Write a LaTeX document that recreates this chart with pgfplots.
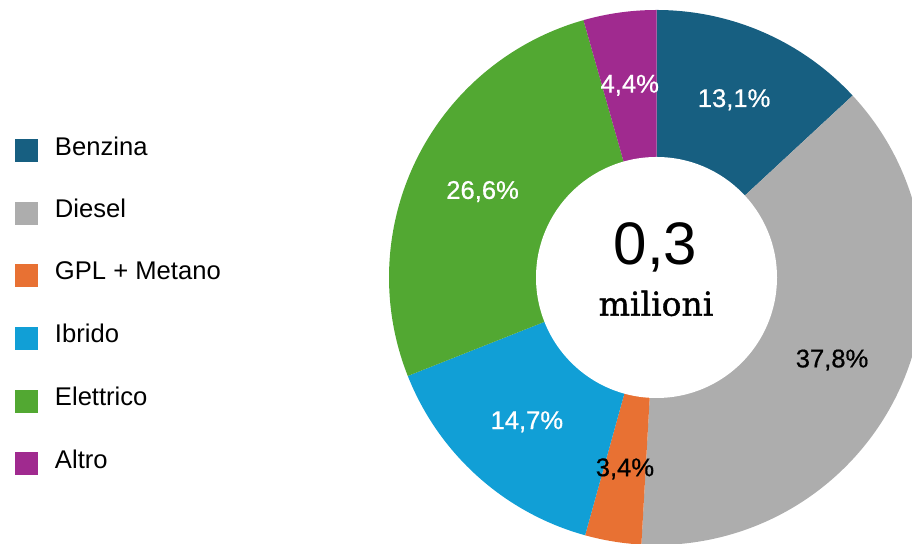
\documentclass[border=0pt]{standalone}
\usepackage{fontspec}
\setmainfont{Liberation Sans}
\newfontfamily\slab[FakeBold=1.2]{DejaVu Serif}
\newfontfamily\medsans[FakeBold=0.6]{Liberation Sans}
\usepackage{pgfplots}
\pgfplotsset{compat=1.18}
\definecolor{benz}{HTML}{175F81}
\definecolor{dies}{HTML}{ADADAD}
\definecolor{gpl}{HTML}{E87133}
\definecolor{ibr}{HTML}{119FD6}
\definecolor{elet}{HTML}{52A832}
\definecolor{altro}{HTML}{A02A8F}
% donut centre (px coords, y up), outer/inner radius
\newcommand\slice[3]{\fill[#3] (axis cs:656.5,266.5) -- ++({90-3.6*#1}:133.75pt) arc[start angle={90-3.6*#1}, end angle={90-3.6*#2}, radius=133.75pt] -- cycle;}
\newcommand\slicelabel[4]{\path (axis cs:656.5,266.5) ++({90-1.8*(#1+#2)}:97pt) node[text=#3,font=\medsans\fontsize{12.8}{14}\selectfont,inner sep=0pt] {#4};}
\begin{document}
\begin{tikzpicture}
\useasboundingbox (0,0) rectangle (456pt,272pt);
\begin{axis}[at={(0,0)}, anchor=south west, x=0.5pt, y=0.5pt,
  xmin=0, xmax=912, ymin=0, ymax=544, hide axis, clip=false,
  legend image code/.code={\fill[#1,draw=none] (0pt,-7.5pt) rectangle (11.5pt,4pt);},
  legend cell align=left,
  legend style={at={(axis cs:15,407.3)}, anchor=north west, draw=none, fill=none,
    inner sep=0pt, outer sep=0pt, row sep=18.45pt,
    font=\fontsize{12.8}{14}\selectfont,
    nodes={inner sep=0pt, outer sep=0pt},
    /tikz/every odd column/.append style={column sep=8.5pt}}]
\addlegendimage{fill=benz,draw=none}
\addlegendimage{fill=dies,draw=none}
\addlegendimage{fill=gpl,draw=none}
\addlegendimage{fill=ibr,draw=none}
\addlegendimage{fill=elet,draw=none}
\addlegendimage{fill=altro,draw=none}
\legend{Benzina, Diesel, GPL + Metano, Ibrido, Elettrico, Altro}
% shares (%): 13.1, 37.8, 3.4, 14.7, 26.6, 4.4 -- cumulative bounds below
\slice{0}{13.1}{benz}
\slice{13.1}{50.9}{dies}
\slice{50.9}{54.3}{gpl}
\slice{54.3}{69.0}{ibr}
\slice{69.0}{95.6}{elet}
\slice{95.6}{100}{altro}
\fill[white] (axis cs:656.5,266.5) circle[radius=60.25pt];
\slicelabel{0}{13.1}{white}{13,1\%}
\slicelabel{13.1}{50.9}{black}{37,8\%}
\slicelabel{50.9}{54.3}{black}{3,4\%}
\slicelabel{54.3}{69.0}{white}{14,7\%}
\slicelabel{69.0}{95.6}{white}{26,6\%}
\slicelabel{95.6}{100}{white}{4,4\%}
\node[anchor=base, inner sep=0pt, font=\fontsize{30}{32}\selectfont] at (axis cs:655.5,279) {0,3};
\node[anchor=base, inner sep=0pt, font=\slab\fontsize{16.5}{18}\selectfont] at (axis cs:656,228.3) {milioni};
\end{axis}
\end{tikzpicture}
\end{document}
